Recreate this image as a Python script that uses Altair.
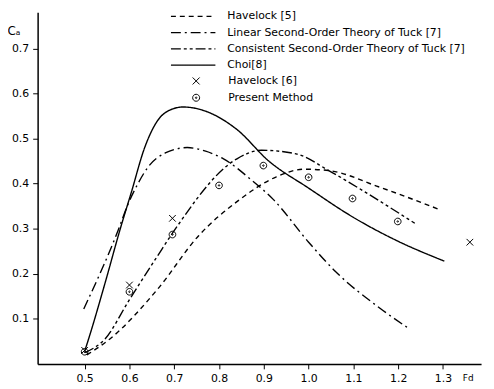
import altair as alt
import pandas as pd

# ---- data ----
series_names = [
    "Havelock [5]",
    "Linear Second-Order Theory of Tuck [7]",
    "Consistent Second-Order Theory of Tuck [7]",
    "Choi[8]",
]

havelock5_fd = [0.505, 0.557, 0.663, 0.755, 0.84, 0.928, 0.99, 1.045, 1.156, 1.296]
havelock5_ca = [0.020, 0.056, 0.166, 0.285, 0.36, 0.415, 0.432, 0.429, 0.393, 0.341]

linear_fd = [0.498, 0.575, 0.597, 0.619, 0.641, 0.68, 0.729, 0.77, 0.81, 0.87, 0.921, 1.0, 1.06, 1.16, 1.226]
linear_ca = [0.122, 0.297, 0.355, 0.40, 0.436, 0.468, 0.48, 0.472, 0.455, 0.41, 0.365, 0.27, 0.205, 0.123, 0.077]

consistent_fd = [0.50, 0.546, 0.599, 0.663, 0.696, 0.84, 0.895, 0.972, 1.045, 1.12, 1.237]
consistent_ca = [0.025, 0.056, 0.141, 0.24, 0.29, 0.455, 0.474, 0.466, 0.429, 0.385, 0.312]

choi_fd = [0.50, 0.509, 0.546, 0.579, 0.604, 0.634, 0.663, 0.69, 0.72, 0.766, 0.84, 0.91, 1.0, 1.1, 1.2, 1.303]
choi_ca = [0.028, 0.056, 0.181, 0.298, 0.38, 0.48, 0.54, 0.563, 0.57, 0.562, 0.52, 0.451, 0.39, 0.325, 0.272, 0.228]

marker_names = ["Havelock [6]", "Present Method"]
havelock6_fd = [0.5, 0.6, 0.696, 1.36]
havelock6_ca = [0.03, 0.175, 0.323, 0.27]
present_fd = [0.5, 0.6, 0.696, 0.8, 0.899, 1.0, 1.098, 1.199]
present_ca = [0.027, 0.16, 0.287, 0.396, 0.44, 0.414, 0.367, 0.316]

x_ticks = [0.5, 0.6, 0.7, 0.8, 0.9, 1.0, 1.1, 1.2, 1.3]
y_ticks = [0.1, 0.2, 0.3, 0.4, 0.5, 0.6, 0.7]

# ---- tables ----
rows = []
for name, fd, ca in zip(series_names,
                        [havelock5_fd, linear_fd, consistent_fd, choi_fd],
                        [havelock5_ca, linear_ca, consistent_ca, choi_ca]):
    for i, (a, b) in enumerate(zip(fd, ca)):
        rows.append({"series": name, "Fd": a, "Ca": b, "order": i})
lines_df = pd.DataFrame(rows)

prow = []
for name, fd, ca in zip(marker_names, [havelock6_fd, present_fd], [havelock6_ca, present_ca]):
    for a, b in zip(fd, ca):
        prow.append({"marker": name, "Fd": a, "Ca": b})
points_df = pd.DataFrame(prow)

FONT = "DejaVu Sans"
x_path = "M-1,-1L1,1M-1,1L1,-1"
odot_path = ("M-1,0A1,1 0 1,1 1,0A1,1 0 1,1 -1,0Z"
             "M-0.22,0A0.22,0.22 0 1,1 0.22,0A0.22,0.22 0 1,1 -0.22,0Z")
line_sym = "M-4.5,0L4.5,0"

x_enc = alt.X("Fd:Q", scale=alt.Scale(domain=[0.395, 1.385], nice=False, zero=False),
              axis=alt.Axis(values=x_ticks, format=".1f", title="Fd",
                            titleX=430, titleY=14, titleAlign="left", titleBaseline="middle",
                            titleFontSize=9, titleFontWeight="normal", titleFont=FONT,
                            labelFont=FONT, labelFontSize=11, labelColor="black",
                            labelPadding=4, tickSize=5, tickColor="black", tickWidth=1,
                            domainColor="black", domainWidth=1.5, grid=False,
                            labelFlush=False))
y_enc = alt.Y("Ca:Q", scale=alt.Scale(domain=[0, 0.78], nice=False),
              axis=alt.Axis(values=y_ticks, format=".1f", title="Cₐ",
                            titleAngle=0, titleX=-31, titleY=18, titleAlign="left",
                            titleBaseline="middle", titleFontSize=12, titleFontWeight="normal",
                            titleFont=FONT,
                            labelFont=FONT, labelFontSize=11, labelColor="black",
                            labelPadding=4, tickSize=5, tickColor="black", tickWidth=1,
                            domainColor="black", domainWidth=1.5, grid=False))

lines = alt.Chart(lines_df).mark_line(color="black", strokeWidth=1.4, interpolate="monotone").encode(
    x=x_enc,
    y=y_enc,
    order="order:Q",
    strokeDash=alt.StrokeDash(
        "series:N",
        scale=alt.Scale(domain=series_names,
                        range=[[5, 4], [10, 4, 2, 4], [10, 3, 3, 3, 3, 3], [1, 0]]),
        legend=alt.Legend(title=None, orient="none", legendX=151.5, legendY=-2,
                          symbolType=line_sym, symbolSize=100, symbolStrokeColor="black",
                          symbolStrokeWidth=1.3, labelOffset=28.5, rowPadding=5.5,
                          labelFont=FONT, labelFontSize=11, labelColor="black",
                          labelLimit=400, padding=0),
    ),
)

points = alt.Chart(points_df).mark_point(filled=False, color="black", strokeWidth=1, opacity=1).encode(
    x="Fd:Q",
    y="Ca:Q",
    shape=alt.Shape(
        "marker:N",
        scale=alt.Scale(domain=marker_names, range=[x_path, odot_path]),
        legend=alt.Legend(title=None, orient="none", legendX=155, legendY=64,
                          symbolSize=50, symbolStrokeColor="black", symbolStrokeWidth=1,
                          labelOffset=27, rowPadding=4,
                          labelFont=FONT, labelFontSize=11, labelColor="black",
                          labelLimit=400, padding=0),
    ),
    size=alt.value(45),
)

chart = alt.layer(lines, points).properties(
    width=449, height=356,
    autosize=alt.AutoSizeParams(type="none"),
    padding={"left": 30, "top": 2, "right": 5, "bottom": 21},
    background="white",
).configure_view(strokeWidth=0)

chart.save("out.html", embed_options={"renderer": "svg", "actions": False})
